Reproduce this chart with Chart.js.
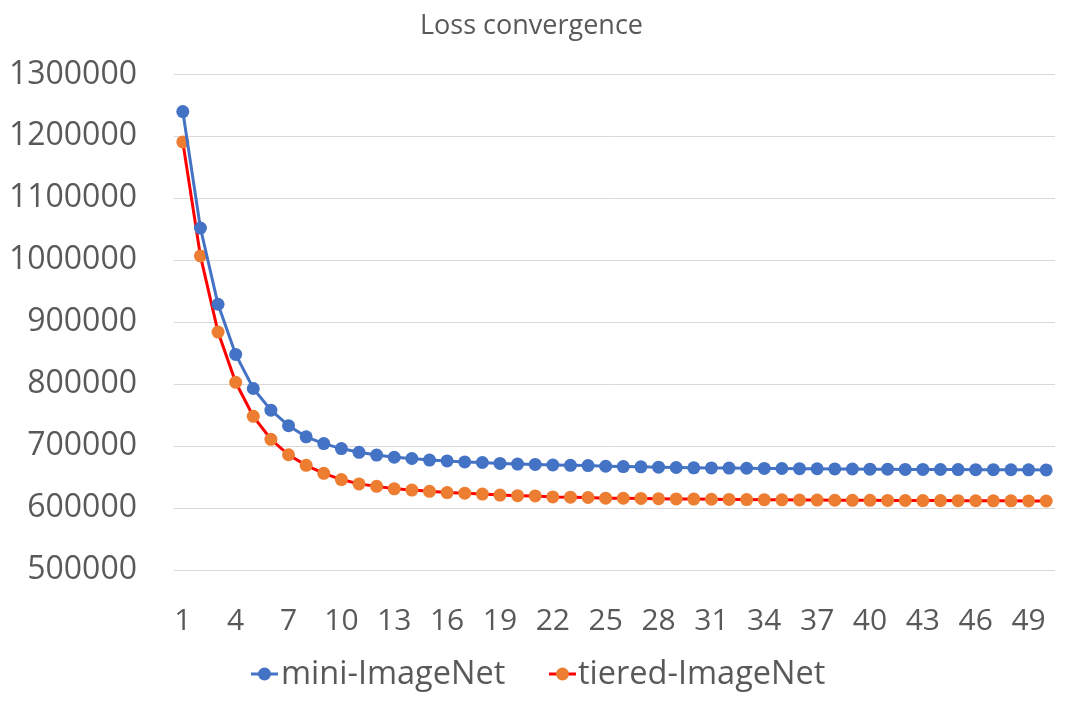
<!DOCTYPE html>
<html>
<head>
<meta charset="utf-8">
<script src="https://cdn.jsdelivr.net/npm/chart.js@4/dist/chart.umd.min.js"></script>
<style>
  html, body { margin: 0; padding: 0; background: #fff; }
  #wrap { width: 1072px; height: 703px; }
</style>
</head>
<body>
<div id="wrap"><canvas id="myChart"></canvas></div>
<script>
// ---------------------------- les donnees ----------------------------//
const epochs = [];
for (let i = 1; i <= 50; i++) epochs.push(String(i));

const miniImageNet = [
    1240000, 1052000, 929000, 848000, 793000, 758000, 733000, 715000, 704000, 696000,
    690000, 685500, 682000, 680000, 677500, 676000, 674500, 673500, 672000, 671000,
    670500, 669500, 669000, 668500, 667500, 667000, 666500, 666000, 665500, 665000,
    664800, 664500, 664200, 664000, 663800, 663600, 663400, 663200, 663000, 662800,
    662600, 662400, 662300, 662200, 662100, 662000, 661900, 661800, 661700, 661600
];

const tieredImageNet = [
    1191000, 1007000, 884000, 803000, 748000, 711000, 686000, 669000, 656000, 646000,
    639000, 635000, 631000, 629000, 627000, 625000, 624000, 622500, 621000, 620000,
    619500, 618000, 617500, 617000, 616000, 615800, 615500, 615000, 614800, 614500,
    614200, 614000, 613700, 613500, 613200, 613000, 612800, 612600, 612500, 612400,
    612300, 612200, 612100, 612000, 611900, 611800, 611700, 611600, 611500, 611400
];

const yMin = 500000;
const yMax = 1300000;
const yStep = 100000;
//----------------------------------------------------------------------//

const textColor = '#595959';
const fontFamily = "'Open Sans', 'Noto Sans', sans-serif";

// legende dessinee a la main (ligne + point comme dans Excel)
const excelLegend = {
    id: 'excelLegend',
    afterDraw(chart) {
        const ctx = chart.ctx;
        const y = 674;
        const items = [
            { x: 251, textX: 281, ds: chart.data.datasets[0] },
            { x: 549, textX: 578, ds: chart.data.datasets[1] }
        ];
        ctx.save();
        ctx.font = '32.5px ' + fontFamily;
        ctx.textBaseline = 'middle';
        items.forEach(it => {
            ctx.strokeStyle = it.ds.borderColor;
            ctx.lineWidth = 3;
            ctx.beginPath();
            ctx.moveTo(it.x, y);
            ctx.lineTo(it.x + 27, y);
            ctx.stroke();
            ctx.fillStyle = it.ds.pointBackgroundColor;
            ctx.beginPath();
            ctx.arc(it.x + 13.5, y, 6.5, 0, Math.PI * 2);
            ctx.fill();
            ctx.fillStyle = textColor;
            ctx.fillText(it.ds.label, it.textX, y + 1);
        });
        ctx.restore();
    }
};

const ctx = document.getElementById('myChart').getContext('2d');
const myChart = new Chart(ctx, {
    type: 'line',
    data: {
        labels: epochs,
        datasets: [{
            label: 'mini-ImageNet',
            data: miniImageNet,
            borderColor: '#4472C4',
            backgroundColor: '#4472C4',
            pointBackgroundColor: '#4472C4',
            pointBorderWidth: 0,
            pointRadius: 6.5,
            borderWidth: 3,
            tension: 0
        }, {
            label: 'tiered-ImageNet',
            data: tieredImageNet,
            borderColor: '#FF0000',
            backgroundColor: '#ED7D31',
            pointBackgroundColor: '#ED7D31',
            pointBorderWidth: 0,
            pointRadius: 6.5,
            borderWidth: 3,
            tension: 0
        }]
    },
    options: {
        responsive: true,
        maintainAspectRatio: false,
        animation: false,
        layout: {
            padding: { left: 8, right: 17, top: 0, bottom: 31 }
        },
        plugins: {
            legend: { display: false },
            tooltip: { enabled: false },
            title: {
                display: true,
                text: 'Loss convergence',
                color: textColor,
                font: { family: fontFamily, size: 27, weight: 'normal' },
                padding: { top: 10, bottom: 32 }
            }
        },
        scales: {
            x: {
                offset: true,
                grid: { display: false },
                border: { display: false },
                afterFit: scale => {
                    scale.height = 102;
                    // pas de marge supplementaire a gauche/droite pour les labels
                    scale.paddingLeft = 0;
                    scale.paddingRight = 0;
                },
                ticks: {
                    autoSkip: false,
                    maxRotation: 0,
                    padding: 25,
                    color: textColor,
                    font: { family: fontFamily, size: 30 },
                    callback: function(val, index) {
                        return index % 3 === 0 ? this.getLabelForValue(val) : '';
                    }
                }
            },
            y: {
                min: yMin,
                max: yMax,
                grid: { color: '#D9D9D9', lineWidth: 1, drawTicks: false },
                border: { display: false },
                afterFit: scale => { scale.width = 166; },
                ticks: {
                    stepSize: yStep,
                    padding: 37,
                    color: textColor,
                    font: { family: fontFamily, size: 32 },
                    callback: v => String(v)
                }
            }
        }
    },
    plugins: [excelLegend]
});
</script>
</body>
</html>
